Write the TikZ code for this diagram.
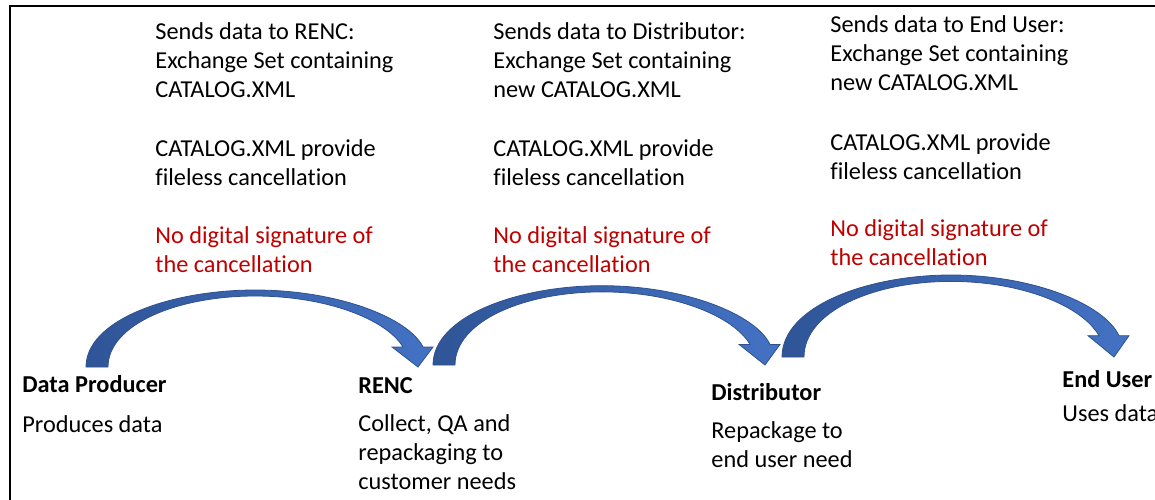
\documentclass[tikz,border=0pt]{standalone}
\usepackage{fontspec}
\setmainfont{Carlito}[Ligatures=NoCommon]
\definecolor{arrdark}{RGB}{47,85,151}
\definecolor{arrlight}{RGB}{68,114,196}
\definecolor{arredge}{RGB}{47,82,143}
\definecolor{warnred}{RGB}{192,0,0}
\tikzset{
  txt/.style={anchor=base west, inner sep=0pt, align=left, font=\fontsize{12.15}{14.5}\selectfont},
  hdr/.style={txt, font=\fontsize{12.15}{14.5}\selectfont\bfseries},
  warn/.style={txt, text=warnred},
  flowarrow/.style={left color=arrdark, right color=arrlight, draw=arredge, line width=0.4pt},
  frameline/.style={line width=1pt, draw=black},
  curvarr/.pic={
    \path[flowarrow] (0,0) .. controls (0,-47) and (84,-77) .. (169,-77)
      .. controls (250,-77) and (322,-50) .. (337,-20)
      -- (347,-20) -- (332,0) -- (306,-20) -- (317,-20)
      .. controls (300,-48) and (240,-71) .. (169,-71)
      .. controls (90,-71) and (22,-42) .. (22,0) -- cycle;
  }
}
\begin{document}
\begin{tikzpicture}[x=0.5pt, y=-0.5pt]
  \useasboundingbox (0,0) rectangle (1155,499);
  \clip (0,0) rectangle (1155,499);
  \draw[frameline] (10,510) -- (10,6) -- (1160,6);

  % curved arrows
  \pic at (86,367) {curvarr};
  \pic[yscale=1.03] at (433,365) {curvarr};
  \pic[yscale=1.065] at (782,357) {curvarr};

  % top blocks (anchor = baseline of last line)
  \node[txt] (s1) at (155,97.3) {Sends data to RENC:\\Exchange Set containing\\CATALOG.XML};
  \node[txt] (c1) at (155,185.5) {CATALOG.XML provide\\fileless cancellation};
  \node[warn] (w1) at (155,272) {No digital signature of\\the cancellation};

  \node[txt] (s2) at (493,97.3) {Sends data to Distributor:\\Exchange Set containing\\new CATALOG.XML};
  \node[txt] (c2) at (493,185.5) {CATALOG.XML provide\\fileless cancellation};
  \node[warn] (w2) at (493,272) {No digital signature of\\the cancellation};

  \node[txt] (s3) at (830,90.8) {Sends data to End User:\\Exchange Set containing\\new CATALOG.XML};
  \node[txt] (c3) at (830,179) {CATALOG.XML provide\\fileless cancellation};
  \node[warn] (w3) at (830,265.5) {No digital signature of\\the cancellation};

  % bottom labels
  \node[hdr] (h1) at (22,392) {Data Producer};
  \node[txt] (b1) at (22,432) {Produces data};
  \node[hdr] (h2) at (358,393) {RENC};
  \node[txt] (b2) at (358,489.3) {Collect, QA and\\repackaging to\\customer needs};
  \node[hdr] (h3) at (711,400) {Distributor};
  \node[txt] (b3) at (711,467.7) {Repackage to\\end user need};
  \node[hdr] (h4) at (1062,387) {End User};
  \node[txt] (b4) at (1062,421) {Uses data};
\end{tikzpicture}
\end{document}
